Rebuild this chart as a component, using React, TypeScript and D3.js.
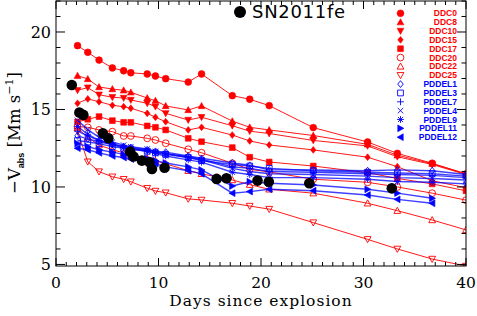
import { useEffect, useRef } from "react"
import * as d3 from "d3"

// model epochs (days since explosion)
const epochs = [2.1, 3.1, 4.2, 5.5, 6.6, 7.3, 8.9, 9.7, 10.7, 12.9, 14.2, 17.2, 18.9, 20.8, 25.1, 30.4, 33.3, 36.7, 40]

// -V_abs in Mm/s, one array per model
const ddc0 = [19.12, 18.69, 18.19, 17.68, 17.5, 17.37, 17.29, 17.16, 16.99, 16.77, 17.29, 15.89, 15.66, 15.25, 13.83, 12.9, 12.17, 11.53, 10.84]
const ddc8 = [17.18, 16.97, 16.45, 16.32, 16.24, 16.11, 15.74, 15.57, 15.23, 14.97, 15.23, 14.25, 13.85, 13.68, 13.32, 12.75, 12.05, 11.5, 10.85]
const ddc10 = [16.24, 16.41, 15.95, 15.79, 15.74, 15.61, 15.4, 15.18, 14.75, 14.32, 14.5, 13.95, 13.6, 13.45, 13.0, 12.65, 11.95, 11.45, 10.8]
const ddc15 = [15.4, 15.68, 15.5, 15.27, 15.18, 15.08, 14.75, 14.5, 14.21, 13.68, 13.85, 13.35, 12.97, 12.71, 12.39, 11.92, 11.31, 10.4, 9.95]
const ddc17 = [14.2, 14.37, 14.54, 14.28, 14.17, 14.17, 13.94, 13.85, 13.68, 13.14, 12.92, 12.54, 11.92, 11.61, 11.35, 10.92, 10.55, 10.2, 9.75]
const ddc20 = [13.9, 13.85, 13.68, 13.57, 13.29, 13.29, 13.14, 13.03, 12.82, 12.43, 12.21, 11.53, 11.14, 10.97, 10.5, 10.3, 10.0, 9.6, 9.15]
const ddc22 = [13.8, 13.2, 12.7, 12.4, 12.2, 12.1, 11.85, 11.7, 11.5, 11.05, 10.85, 10.45, 10.15, 9.85, 9.6, 8.95, 8.47, 7.87, 7.23]
const ddc25 = [13.6, 11.63, 10.99, 10.66, 10.5, 10.34, 9.92, 9.74, 9.63, 9.23, 9.16, 8.95, 8.77, 8.57, 7.7, 6.62, 6.0, 5.35, 4.9]

const pddel1 = [13.3, 13.1, 12.9, 12.75, 12.6, 12.55, 12.4, 12.3, 12.25, 12.0, 11.85, 11.55, 11.4, 11.1, 11.1, 11.05, 11.1, 11.05, 10.8]
const pddel3 = [13.0, 12.9, 12.8, 12.6, 12.5, 12.45, 12.3, 12.2, 12.1, 11.9, 11.7, 11.45, 11.35, 11.2, 11.05, 10.95, 10.9, 10.85, 10.7]
const pddel7 = [13.6, 13.3, 13.0, 12.8, 12.6, 12.5, 12.35, 12.25, 12.15, 11.95, 11.8, 11.3, 11.2, 11.0, 10.95, 10.85, 10.8, 10.75, 10.6]
const pddel4 = [14.3, 13.7, 13.2, 12.9, 12.7, 12.6, 12.45, 12.3, 12.15, 11.9, 11.75, 11.2, 11.0, 10.85, 10.8, 10.7, 10.6, 10.55, 10.45]
const pddel9 = [13.9, 13.4, 13.0, 12.7, 12.55, 12.45, 12.3, 12.15, 12.0, 11.75, 11.6, 10.95, 10.8, 10.6, 10.6, 10.5, 10.35, 10.3, 10.2]
const pddel11 = [12.8, 12.6, 12.4, 12.25, 12.1, 12.0, 11.85, 11.7, 11.55, 11.3, 11.1, 10.06, 10.34, 10.24, 10.13, 9.85, 9.6, 9.27]
const pddel12 = [12.5, 12.4, 12.2, 12.0, 11.9, 11.8, 11.6, 11.5, 11.3, 11.05, 10.85, 9.6, 9.7, 9.85, 9.76, 9.48, 9.2, 8.95]

const modelNames = ["DDC0", "DDC8", "DDC10", "DDC15", "DDC17", "DDC20", "DDC22", "DDC25",
  "PDDEL1", "PDDEL3", "PDDEL7", "PDDEL4", "PDDEL9", "PDDEL11", "PDDEL12"]
const modelValues = [ddc0, ddc8, ddc10, ddc15, ddc17, ddc20, ddc22, ddc25,
  pddel1, pddel3, pddel7, pddel4, pddel9, pddel11, pddel12]

// SN 2011fe measurements
const snDays = [1.54, 2.28, 2.67, 4.57, 5.11, 7.24, 7.56, 8.38, 9.12, 9.36, 10.59, 15.67, 16.63, 19.66, 20.76, 24.71, 32.76]
const snVel = [16.58, 14.8, 14.65, 13.46, 13.14, 12.28, 11.97, 11.7, 11.6, 11.16, 11.24, 10.52, 10.56, 10.41, 10.34, 10.24, 9.91]

const xTicks = [0, 10, 20, 30, 40]
const yTicks = [5, 10, 15, 20]

const RED = "#ff0000"
const BLUE = "#0000ff"

// marker styles per model, same order as modelNames
const symbols: [string, boolean][] = [
  ["circle", true], ["triUp", true], ["triDown", true], ["diamond", true], ["square", true],
  ["circle", false], ["triUp", false], ["triDown", false],
  ["diamond", false], ["square", false], ["plus", false], ["x", false], ["asterisk", false],
  ["triRight", true], ["triLeft", true],
]

function drawMarker(g: any, kind: string, filled: boolean, cx: number, cy: number, color: string, s: number) {
  const fill = filled ? color : "none"
  const sw = filled ? 0.6 : 0.9
  let d = ""
  if (kind === "circle") {
    g.append("circle").attr("cx", cx).attr("cy", cy).attr("r", s)
      .attr("fill", filled ? color : "none").attr("stroke", color).attr("stroke-width", sw)
    return
  }
  if (kind === "triUp") d = `M${cx},${cy - s}L${cx + s},${cy + s * 0.8}L${cx - s},${cy + s * 0.8}Z`
  if (kind === "triDown") d = `M${cx},${cy + s}L${cx + s},${cy - s * 0.8}L${cx - s},${cy - s * 0.8}Z`
  if (kind === "triRight") d = `M${cx + s},${cy}L${cx - s * 0.8},${cy - s}L${cx - s * 0.8},${cy + s}Z`
  if (kind === "triLeft") d = `M${cx - s},${cy}L${cx + s * 0.8},${cy - s}L${cx + s * 0.8},${cy + s}Z`
  if (kind === "diamond") d = `M${cx},${cy - s}L${cx + s * 0.8},${cy}L${cx},${cy + s}L${cx - s * 0.8},${cy}Z`
  if (kind === "square") { const h = s * 0.85; d = `M${cx - h},${cy - h}H${cx + h}V${cy + h}H${cx - h}Z` }
  if (kind === "plus") d = `M${cx - s},${cy}H${cx + s}M${cx},${cy - s}V${cy + s}`
  if (kind === "x") { const h = s * 0.8; d = `M${cx - h},${cy - h}L${cx + h},${cy + h}M${cx - h},${cy + h}L${cx + h},${cy - h}` }
  if (kind === "asterisk") {
    const h = s * 0.75
    d = `M${cx - s},${cy}H${cx + s}M${cx},${cy - s}V${cy + s}M${cx - h},${cy - h}L${cx + h},${cy + h}M${cx - h},${cy + h}L${cx + h},${cy - h}`
  }
  g.append("path").attr("d", d).attr("fill", fill).attr("stroke", color).attr("stroke-width", sw)
}

export default function App() {
  const svgRef = useRef<SVGSVGElement>(null)

  useEffect(() => {
    if (!svgRef.current) return
    const svg = d3.select(svgRef.current)
    svg.selectAll("*").remove()

    const x = d3.scaleLinear().domain([0, 40]).range([56, 466])
    const y = d3.scaleLinear().domain([4.9, 22]).range([266, 1])

    svg.append("rect").attr("width", 477).attr("height", 316).attr("fill", "#fff")

    svg.append("clipPath").attr("id", "plot").append("rect")
      .attr("x", 56).attr("y", 1).attr("width", 410).attr("height", 265)

    const plot = svg.append("g").attr("clip-path", "url(#plot)")
    const line = d3.line<number>().x((_, i) => x(epochs[i])).y(v => y(v))

    // DDC models first, PDDEL models on top
    modelValues.forEach((vals, k) => {
      const color = k < 8 ? RED : BLUE
      plot.append("path").attr("d", line(vals))
        .attr("fill", "none").attr("stroke", color)
        .attr("stroke-width", k < 8 ? 1 : 1.4).attr("stroke-opacity", k < 8 ? 0.9 : 0.75)
      const [kind, filled] = symbols[k]
      vals.forEach((v, i) => drawMarker(plot, kind, filled, x(epochs[i]), y(v), color, 3.4))
    })

    // SN2011fe
    snDays.forEach((d, i) => {
      plot.append("circle").attr("cx", x(d)).attr("cy", y(snVel[i])).attr("r", 5.3).attr("fill", "#000")
    })

    // frame and ticks
    const ax = svg.append("g").attr("stroke", "#000").attr("stroke-width", 1)
    ax.append("rect").attr("x", 56).attr("y", 1).attr("width", 410).attr("height", 265).attr("fill", "none")
    d3.range(0, 41).forEach(t => {
      const len = t % 10 === 0 ? 8 : 4
      ax.append("line").attr("x1", x(t)).attr("x2", x(t)).attr("y1", 266).attr("y2", 266 - len)
      ax.append("line").attr("x1", x(t)).attr("x2", x(t)).attr("y1", 1).attr("y2", 1 + len)
    })
    d3.range(5, 23).forEach(t => {
      const len = t % 5 === 0 ? 9 : 4.5
      ax.append("line").attr("y1", y(t)).attr("y2", y(t)).attr("x1", 56).attr("x2", 56 + len)
      ax.append("line").attr("y1", y(t)).attr("y2", y(t)).attr("x1", 466).attr("x2", 466 - len)
    })

    const serif = "DejaVu Serif, serif"
    xTicks.forEach(t => {
      svg.append("text").attr("x", x(t)).attr("y", 288).attr("text-anchor", "middle")
        .attr("font-family", serif).attr("font-size", 15.5).text(t)
    })
    yTicks.forEach(t => {
      svg.append("text").attr("x", 51).attr("y", y(t) + 6).attr("text-anchor", "end")
        .attr("font-family", serif).attr("font-size", 16).text(t)
    })

    svg.append("text").attr("x", 261).attr("y", 306).attr("text-anchor", "middle")
      .attr("font-family", serif).attr("font-size", 15.5).attr("letter-spacing", 1)
      .text("Days since explosion")

    const yl = svg.append("text").attr("transform", "translate(20,133) rotate(-90)")
      .attr("text-anchor", "middle").attr("font-family", serif).attr("font-size", 16.5)
    yl.append("tspan").text("\u2212V")
    yl.append("tspan").attr("dy", 4).attr("font-size", 9).attr("font-weight", "bold")
      .attr("font-family", "Liberation Sans, sans-serif").text("abs")
    yl.append("tspan").attr("dy", -4).text(" [Mm s")
    yl.append("tspan").attr("dy", -7).attr("font-size", 11).text("\u22121")
    yl.append("tspan").attr("dy", 7).text("]")

    // SN legend
    svg.append("circle").attr("cx", 240).attr("cy", 12).attr("r", 6).attr("fill", "#000")
    svg.append("text").attr("x", 252).attr("y", 18).attr("font-family", "DejaVu Sans, sans-serif")
      .attr("font-size", 18).attr("letter-spacing", 0.7).text("SN2011fe")

    // model legend
    modelNames.forEach((name, k) => {
      const color = k < 8 ? RED : BLUE
      const cy = 13.3 + k * 8.85
      const [kind, filled] = symbols[k]
      drawMarker(svg, kind, filled, 400.5, cy, color, 3.4)
      svg.append("text").attr("x", 457).attr("y", cy + 3).attr("text-anchor", "end")
        .attr("font-family", "Liberation Sans, Arial, sans-serif").attr("font-weight", "bold")
        .attr("font-size", 8.5).attr("fill", color).text(name)
    })
  }, [])

  return (
    <svg ref={svgRef} width={477} height={316} style={{ position: "absolute", left: 0, top: 0 }} />
  )
}
